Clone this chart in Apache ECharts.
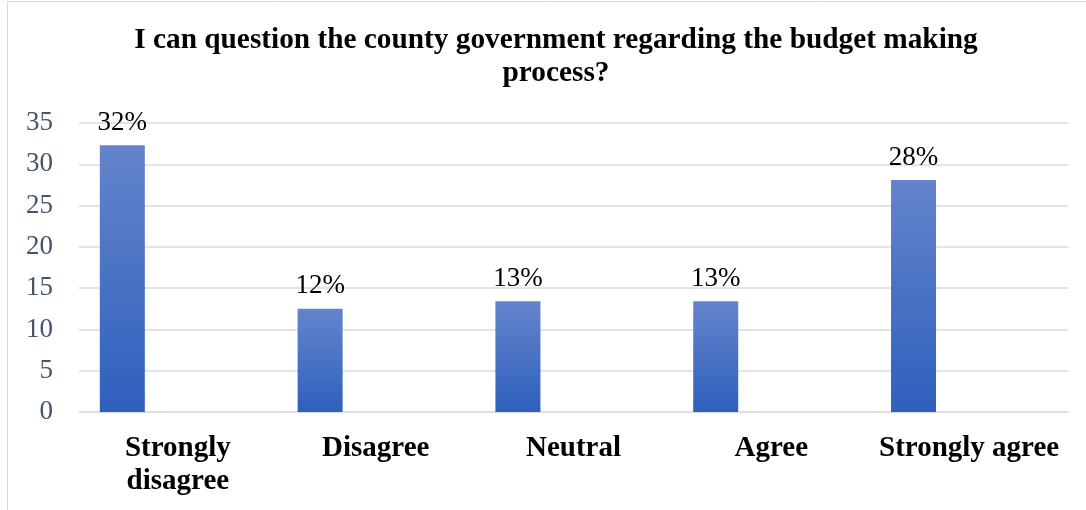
<!DOCTYPE html>
<html>
<head>
<meta charset="utf-8">
<script src="https://cdn.jsdelivr.net/npm/echarts@6/dist/echarts.min.js"></script>
<style>
  html, body { margin: 0; padding: 0; background: #fff; }
  #chart { width: 1086px; height: 510px; }
</style>
</head>
<body>
<div id="chart"></div>
<script>
// data
const categories = ['Strongly\ndisagree', 'Disagree', 'Neutral', 'Agree', 'Strongly agree']
const values = [32.3, 12.5, 13.4, 13.4, 28.1]
const valueLabels = ['32%', '12%', '13%', '13%', '28%']
const yTicks = [0, 5, 10, 15, 20, 25, 30, 35]

const serif = '"Liberation Serif", "Times New Roman", serif'

const myChart = echarts.init(document.getElementById('chart'))

let option = {
    backgroundColor: '#fff',
    animation: false,
    graphic: [{
        type: 'rect',
        shape: { x: 7.5, y: 1.5, width: 1200, height: 600 },
        style: { fill: 'none', stroke: '#d9d9d9', lineWidth: 1 },
        silent: true
    }],
    title: {
        text: 'I can question the county government regarding the budget making\nprocess?',
        left: 556,
        top: 24,
        padding: 0,
        textAlign: 'center',
        textStyle: {
            fontFamily: serif,
            fontWeight: 'bold',
            fontSize: 29.3,
            lineHeight: 33,
            color: '#000'
        }
    },
    grid: {
        left: 79,
        right: 18,
        top: 123,
        bottom: 98
    },
    xAxis: {
        type: 'category',
        data: categories,
        axisLine: { lineStyle: { color: '#d9dce1', width: 1.5 } },
        axisTick: { show: false },
        axisLabel: {
            margin: 20,
            fontFamily: serif,
            fontWeight: 'bold',
            fontSize: 29,
            lineHeight: 33,
            color: '#000',
            interval: 0
        }
    },
    yAxis: {
        type: 'value',
        min: yTicks[0],
        max: yTicks[yTicks.length - 1],
        interval: 5,
        axisLine: { show: false },
        axisTick: { show: false },
        axisLabel: {
            margin: 26,
            fontFamily: serif,
            fontSize: 27,
            color: '#44546a'
        },
        splitLine: { lineStyle: { color: '#d9dce1', width: 1.5 } }
    },
    series: [{
        type: 'bar',
        data: values,
        barWidth: 45,
        barGap: '147%',
        itemStyle: {
            color: new echarts.graphic.LinearGradient(0, 0, 0, 1, [
                { offset: 0, color: '#6484cb' },
                { offset: 1, color: '#2e60bd' }
            ])
        },
        label: {
            show: true,
            position: 'top',
            distance: 9,
            fontFamily: serif,
            fontSize: 27,
            color: '#000',
            formatter: p => valueLabels[p.dataIndex]
        }
    }, {
        // empty companion series keeps the bars shifted left like the original
        type: 'bar',
        data: values.map(() => null),
        barWidth: 45
    }]
}

myChart.setOption(option)
</script>
</body>
</html>
